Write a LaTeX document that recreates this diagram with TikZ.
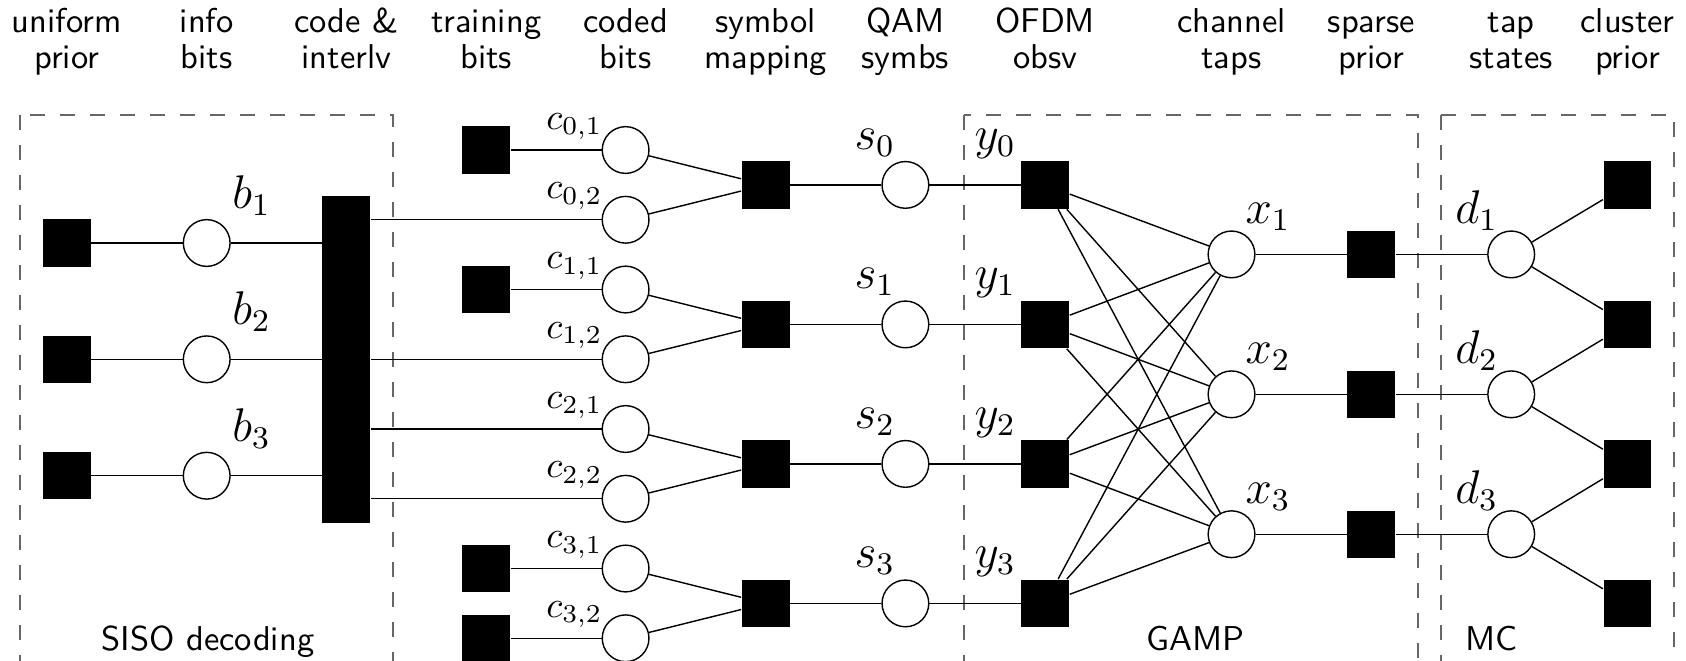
\documentclass[tikz,border=0pt]{standalone}
\usetikzlibrary{calc}
\begin{document}
\begin{tikzpicture}[x=0.01cm,y=-0.01cm,
  var/.style={circle,draw,fill=white,minimum size=0.467cm,inner sep=0pt,line width=0.4pt},
  fac/.style={rectangle,fill=black,minimum width=0.478cm,minimum height=0.473cm,inner sep=0pt},
  barfac/.style={fac,minimum height=3.27cm},
  edge/.style={line width=0.4pt},
  grp/.style={draw=black!60,line width=0.5pt,dash pattern=on 0.15cm off 0.15cm},
  hdr/.style={font=\sffamily\fontsize{9.8}{9.96}\selectfont,align=center,inner sep=0pt,anchor=base},
  lab/.style={inner sep=0pt,font=\large,scale=1.12},
  clab/.style={inner sep=0pt,font=\normalsize,scale=1.05},
  glab/.style={inner sep=0pt,font=\sffamily\fontsize{9.8}{12}\selectfont}]
\useasboundingbox (0,0) rectangle (1686,660);
\begin{scope}
\clip (0,0) rectangle (1686,660);
\draw[grp] (20.3,115) rectangle (393,700);
\draw[grp] (964,115) rectangle (1418,700);
\draw[grp] (1440.7,115) rectangle (1673.6,700);
\end{scope}
% headers
\node[hdr] (h1) at (66.8,68) {uniform\\prior};
\node[hdr] (h2) at (206.7,68) {info\\bits};
\node[hdr] (h3) at (346.4,68) {code \&\\interlv};
\node[hdr] (h4) at (486.2,68) {training\\bits};
\node[hdr] (h5) at (625.6,68) {coded\\bits};
\node[hdr] (h6) at (765.7,68) {symbol\\mapping};
\node[hdr] (h7) at (905.4,68) {QAM\\symbs};
\node[hdr] (h8) at (1045.1,68) {OFDM\\obsv};
\node[hdr] (h9) at (1231.5,68) {channel\\taps};
\node[hdr] (h10) at (1371.3,68) {sparse\\prior};
\node[hdr] (h11) at (1511.2,68) {tap\\states};
\node[hdr] (h12) at (1627.5,68) {cluster\\prior};
% group labels
\node[glab,anchor=base] (siso) at (208,650) {SISO decoding};
\node[glab,anchor=base] (gamp) at (1195.8,650) {GAMP};
\node[glab,anchor=base west] (mc) at (1464.3,650) {MC};
% info bits
\foreach \i/\yy in {1/243,2/359.3,3/475.7} {
  \node[fac] (u\i) at (66.8,\yy) {};
  \node[var] (b\i) at (206.7,\yy) {};
  \node[lab,anchor=base west] (lb\i) at ($(b\i)+(25,-34.7)$) {$b_\i$};
}
\node[barfac] (bar) at (346.4,359.5) {};
% coded bits
\foreach \k in {0,...,3} {
  \foreach \j in {1,2} {
    \pgfmathsetmacro\yy{150+69.75*(2*\k+\j-1)}
    \node[var] (c\k\j) at (625.6,\yy) {};
    \node[clab,anchor=base east] (lc\k\j) at ($(c\k\j)+(-22.4,-21)$) {$c_{\k,\j}$};
  }
  \pgfmathsetmacro\yy{184.9+139.5*\k}
  \node[fac] (m\k) at (765.7,\yy) {};
  \node[var] (s\k) at (905.4,\yy) {};
  \node[fac] (y\k) at (1045.1,\yy) {};
  \node[lab,anchor=base west] (ls\k) at ($(s\k)+(-51.7,-35.6)$) {$s_\k$};
  \node[lab,anchor=base east] (ly\k) at ($(y\k)+(-28.4,-35.6)$) {$y_\k$};
}
% training bits
\node[fac] (t0) at (486.2,150) {};
\node[fac] (t1) at (486.2,289.5) {};
\node[fac] (t3a) at (486.2,568.5) {};
\node[fac] (t3b) at (486.2,638.25) {};
% channel taps
\foreach \j in {1,2,3} {
  \pgfmathsetmacro\yy{254.4+139.9*(\j-1)}
  \node[var] (x\j) at (1231.5,\yy) {};
  \node[fac] (p\j) at (1371.3,\yy) {};
  \node[var] (d\j) at (1511.2,\yy) {};
  \node[lab,anchor=base west] (lx\j) at ($(x\j)+(13.3,-31)$) {$x_\j$};
  \node[lab,anchor=base west] (ld\j) at ($(d\j)+(-56.7,-31)$) {$d_\j$};
}
\foreach \k in {1,...,4} {
  \pgfmathsetmacro\yy{184.9+139.5*(\k-1)}
  \node[fac] (q\k) at (1627.5,\yy) {};
}
% edges
\foreach \i in {1,2,3} { \draw[edge] (u\i) -- (b\i) -- (b\i -| bar.west); }
\foreach \n in {c02,c12,c21,c22} { \draw[edge] (\n -| bar.east) -- (\n); }
\draw[edge] (t0) -- (c01);
\draw[edge] (t1) -- (c11);
\draw[edge] (t3a) -- (c31);
\draw[edge] (t3b) -- (c32);
\foreach \k in {0,...,3} {
  \draw[edge] (c\k1) -- (m\k);
  \draw[edge] (c\k2) -- (m\k);
  \draw[edge] (m\k) -- (s\k) -- (y\k);
  \foreach \j in {1,2,3} { \draw[edge] (y\k) -- (x\j); }
}
\foreach \j in {1,2,3} { \draw[edge] (x\j) -- (p\j) -- (d\j); }
\draw[edge] (d1) -- (q1);
\draw[edge] (d1) -- (q2);
\draw[edge] (d2) -- (q2);
\draw[edge] (d2) -- (q3);
\draw[edge] (d3) -- (q3);
\draw[edge] (d3) -- (q4);
\end{tikzpicture}
\end{document}
